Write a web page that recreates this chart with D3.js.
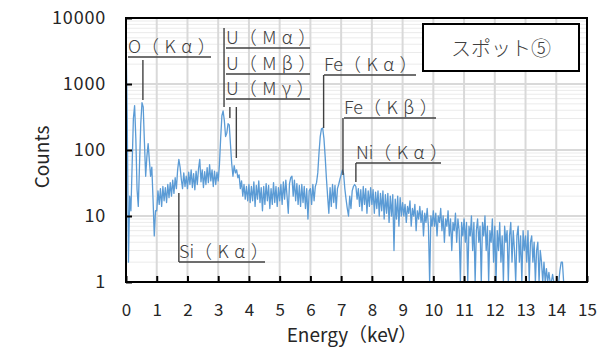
<!DOCTYPE html>
<html><head><meta charset="utf-8">
<script src="https://cdn.jsdelivr.net/npm/d3@7"></script>
<style>
html,body{margin:0;padding:0;background:#fff;}
svg{display:block;}
text{font-family:"Noto Sans CJK JP","Noto Sans",sans-serif;}
</style></head><body>
<svg id="chart" width="604" height="348"></svg>
<script>
// EDS spectrum, spot 5 — counts per 0.04 keV channel starting at 0 keV
const channelWidth = 0.04;
const counts = [
  // 0–1 keV
  5800,300,2,20,12,60,300,470,150,25,14,60,250,520,450,130,40,80,125,70,40,55,18,5,12,
  // 1–2 keV
  12,24,15,26,14,28,17,27,16,30,19,32,20,35,22,38,26,50,72,55,36,26,45,28,40,
  // 2–3 keV
  26,46,30,50,27,44,25,48,30,52,72,33,50,27,47,30,54,32,60,34,50,28,48,30,46,
  // 3–4 keV
  34,60,150,330,390,280,160,180,250,240,120,62,40,58,45,50,38,42,26,34,20,30,18,28,17,
  // 4–5 keV
  30,16,28,17,33,14,29,18,34,16,27,12,28,15,31,17,29,13,26,15,32,16,28,14,27,
  // 5–6 keV
  17,30,15,33,18,35,20,11,31,38,40,20,35,17,31,15,29,14,30,16,28,13,26,9,24,
  // 6–7 keV
  26,15,30,17,28,32,45,90,160,210,215,150,80,38,20,11,27,14,30,16,29,13,26,30,36,
  // 7–8 keV
  42,50,44,26,18,13,10,20,13,24,28,30,28,18,26,14,25,12,28,15,26,11,24,14,27,
  // 8–9 keV
  15,25,11,23,13,24,10,22,12,24,9,21,11,22,8,20,10,21,3,18,9,20,7,19,10,
  // 9–10 keV
  16,10,15,8,14,11,17,7,13,10,15,6,12,9,14,8,12,5,11,8,13,7,1,10,7,
  // 10–11 keV
  12,7,11,5,10,8,13,6,10,4,9,7,12,5,9,3,8,6,11,4,9,6,1,8,5,
  // 11–12 keV
  9,4,8,1,7,5,10,3,8,1,6,9,4,7,1,8,5,10,3,7,1,6,4,9,2,
  // 12–13 keV
  7,1,6,3,8,2,5,1,7,4,6,1,5,8,2,6,3,1,5,7,2,5,1,6,3,
  // 13–14 keV
  5,2,6,1,4,5,2,4,1,3,4,1,3,2,1,2,1,1.6,1,1.4,1,1,1.3,1,1,
  // 14 keV –
  1,1,1,1.5,2,2,1
];

const xTickValues = [0,1,2,3,4,5,6,7,8,9,10,11,12,13,14,15];
const yTickValues = [1,10,100,1000,10000];

// peak callouts: element and line
const peakElements = ["O","U","U","U","Fe","Fe","Ni","Si"];
const peakLines    = ["Kα","Mα","Mβ","Mγ","Kα","Kβ","Kα","Kα"];
const peakEnergies = [0.55, 3.19, 3.38, 3.59, 6.43, 7.06, 7.48, 1.72];

const spotLabel = "スポット⑤";
const xTitle = "Energy（keV）";
const yTitle = "Counts";

// ---- layout ----
const svg = d3.select("#chart");
const L = 126, R = 587, T = 18, B = 282;

const x = d3.scaleLinear().domain([0, 15]).range([L, R]);
const y = d3.scaleLog().domain([1, 10000]).range([B, T]);

// grid
const grid = svg.append("g");
const minor = [];
yTickValues.slice(0, -1).forEach(d => { for (let k = 2; k <= 9; k++) minor.push(d * k); });
grid.selectAll(".minor").data(minor).join("line")
  .attr("x1", L).attr("x2", R)
  .attr("y1", d => y(d)).attr("y2", d => y(d))
  .attr("stroke", "#ebebeb").attr("stroke-width", 1);
grid.selectAll(".major").data(yTickValues.slice(1, -1)).join("line")
  .attr("x1", L).attr("x2", R)
  .attr("y1", d => y(d)).attr("y2", d => y(d))
  .attr("stroke", "#d9d9d9").attr("stroke-width", 2);
grid.selectAll(".vx").data(xTickValues.slice(1, -1)).join("line")
  .attr("x1", d => x(d)).attr("x2", d => x(d))
  .attr("y1", T).attr("y2", B)
  .attr("stroke", "#d9d9d9").attr("stroke-width", 2);

// spectrum
svg.append("clipPath").attr("id", "plotClip")
  .append("rect").attr("x", L).attr("y", T).attr("width", R - L).attr("height", B - T);
const line = d3.line()
  .x((d, i) => x(i * channelWidth))
  .y(d => y(Math.max(d, 1)));
svg.append("path")
  .datum(counts)
  .attr("clip-path", "url(#plotClip)")
  .attr("fill", "none")
  .attr("stroke", "#5b9bd5")
  .attr("stroke-width", 1.3)
  .attr("stroke-linejoin", "round")
  .attr("d", line);

// axes
const xAxis = svg.append("g").attr("transform", `translate(0,${B})`)
  .call(d3.axisBottom(x).tickValues(xTickValues).tickSize(-6).tickPadding(22).tickFormat(d3.format("d")));
const yAxis = svg.append("g").attr("transform", `translate(${L},0)`)
  .call(d3.axisLeft(y).tickValues(yTickValues).tickSize(-6).tickPadding(20).tickFormat(d3.format("d")));
[xAxis, yAxis].forEach(g => {
  g.select(".domain").remove();
  g.selectAll(".tick line").attr("stroke", "#000").attr("stroke-width", 2);
  g.selectAll(".tick text").attr("fill", "#262626").attr("font-size", 17)
    .attr("font-family", '"Noto Sans CJK JP", sans-serif');
});
yAxis.selectAll(".tick text").attr("font-size", 18).attr("letter-spacing", "0.8px");

// plot frame
svg.append("rect").attr("x", L).attr("y", T).attr("width", R - L).attr("height", B - T)
  .attr("fill", "none").attr("stroke", "#000").attr("stroke-width", 2);

// axis titles
svg.append("text").attr("x", 352).attr("y", 342).attr("text-anchor", "middle")
  .attr("font-size", 19).attr("fill", "#262626").text(xTitle);
svg.append("text").attr("transform", "translate(49,157) rotate(-90)").attr("text-anchor", "middle")
  .attr("font-size", 19).attr("fill", "#262626").text(yTitle);

// peak callouts
const ann = svg.append("g").attr("stroke", "#404040").attr("stroke-width", 1.4);
const callouts = [
  { i: 0, tx: 128, uy: 57,  uw: 83, y0: 60,  y1: 100 },
  { i: 1, tx: 226, uy: 48,  uw: 84, y0: 28,  y1: 107 },
  { i: 2, tx: 226, uy: 74,  uw: 84, y0: 107, y1: 118 },
  { i: 3, tx: 226, uy: 99,  uw: 84, y0: 107, y1: 158 },
  { i: 4, tx: 324, uy: 75,  uw: 92, y0: 75,  y1: 128 },
  { i: 5, tx: 344, uy: 118, uw: 92, y0: 118, y1: 175 },
  { i: 6, tx: 356, uy: 163, uw: 85, y0: 163, y1: 182 },
  { i: 7, tx: 179, uy: 262, uw: 86, y0: 193, y1: 262 }
];
callouts.forEach(c => {
  const ex = x(peakEnergies[c.i]);
  ann.append("line").attr("x1", ex).attr("x2", ex).attr("y1", c.y0).attr("y2", c.y1);
  ann.append("line").attr("x1", c.tx).attr("x2", c.tx + c.uw).attr("y1", c.uy).attr("y2", c.uy);
  const t = svg.append("text").attr("x", c.tx).attr("y", c.uy - 4)
    .attr("font-size", 18).attr("font-weight", 300).attr("fill", "#404040");
  t.append("tspan").text(peakElements[c.i]);
  t.append("tspan").attr("letter-spacing", "5.5px").text("（" + peakLines[c.i] + "）");
});

// spot label box
svg.append("rect").attr("x", 423).attr("y", 24).attr("width", 156).attr("height", 47)
  .attr("fill", "#fff").attr("stroke", "#000").attr("stroke-width", 2);
svg.append("text").attr("x", 501).attr("y", 56).attr("text-anchor", "middle")
  .attr("font-size", 20).attr("font-weight", 300).attr("fill", "#404040").text(spotLabel);
</script>
</body></html>
